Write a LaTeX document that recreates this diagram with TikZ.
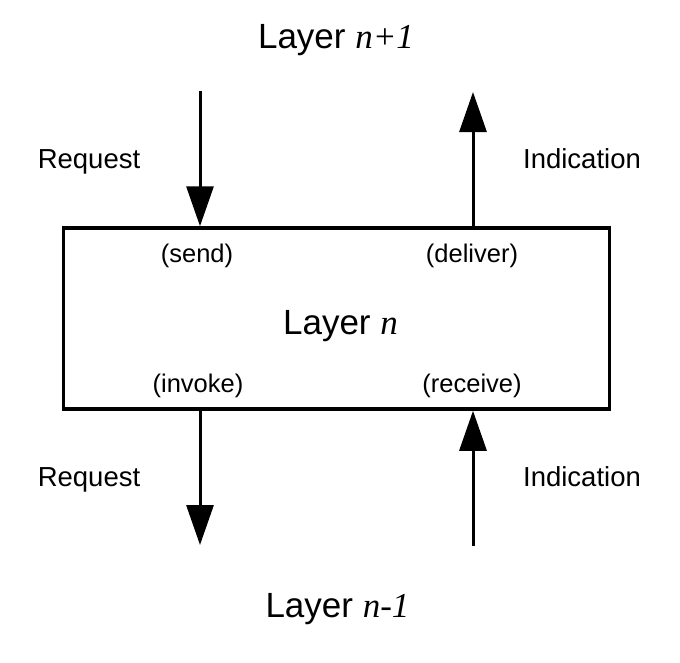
\documentclass[tikz,border=0pt]{standalone}
\usepackage{fontspec}
\setmainfont{Liberation Sans}
\newfontfamily\timesfont{Liberation Serif}
\usepackage{tikz}
\usetikzlibrary{arrows.meta, positioning}
\tikzstyle{arrow} = [line width=3pt,-{Triangle[length=40pt,width=27pt]}]
\tikzstyle{layerbox} = [draw, line width=3.5pt, minimum width=546pt, minimum height=181pt, inner sep=0pt]
\tikzstyle{title} = [anchor=base, font=\fontsize{35}{40}\selectfont]
\tikzstyle{prim} = [anchor=base, font=\fontsize{27.5}{32}\selectfont]
\tikzstyle{call} = [anchor=base, font=\fontsize{25.5}{30}\selectfont]
\newcommand{\lvl}[1]{{\timesfont\itshape #1}}

\begin{document}
\begin{tikzpicture}[x=1pt,y=-1pt]
        \useasboundingbox (0,0) rectangle (680,662);
        \node[layerbox] (layer) at (336.5,318.5) {};
        \node[title] (mid) at (340.5,334) {Layer \lvl{n}};
        \node[title] (upper) at (336,48) {Layer \lvl{n+1}};
        \node[title] (lower) at (337.5,617) {Layer \lvl{n-1}};
        % primitives
        \node[prim] (requp) at (89,168) {Request};
        \node[prim] (indup) at (582,168) {Indication};
        \node[prim] (reqlow) at (89,486) {Request};
        \node[prim] (indlow) at (582,486) {Indication};
        \node[call] (send) at (197,262) {(send)};
        \node[call] (deliver) at (472,262) {(deliver)};
        \node[call] (invoke) at (198,392) {(invoke)};
        \node[call] (receive) at (472,392) {(receive)};
        % arrows
        \coordinate (sendin) at (200,91);
        \coordinate (delout) at (473,92);
        \coordinate (invout) at (200,545);
        \coordinate (recin) at (473,546);
        \draw[arrow] (sendin) -- (sendin |- layer.north);
        \draw[arrow] (delout |- layer.north) -- (delout);
        \draw[arrow] (invout |- layer.south) -- (invout);
        \draw[arrow] (recin) -- (recin |- layer.south);
    \end{tikzpicture}
\end{document}
